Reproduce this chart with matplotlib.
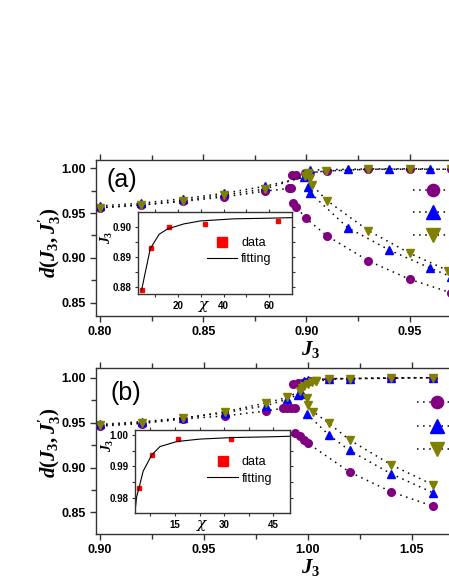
import matplotlib
matplotlib.use("Agg")
import matplotlib.pyplot as plt

plt.rcParams["font.family"] = ["Liberation Sans", "DejaVu Sans"]
plt.rcParams["mathtext.fontset"] = "custom"
plt.rcParams["mathtext.it"] = "Liberation Serif:italic:bold"
plt.rcParams["mathtext.rm"] = "Liberation Serif:bold"
plt.rcParams["mathtext.bf"] = "Liberation Serif:bold"

PURPLE = "#800080"
BLUE = "#0000ff"
OLIVE = "#808000"

# ---- panel (a) data ----
a_purple_pre_x = [0.80, 0.82, 0.84, 0.86, 0.88, 0.8915, 0.8925]
a_purple_pre_y = [0.956, 0.959, 0.963, 0.968, 0.9745, 0.9775, 0.978]
a_purple_up_x = [0.893, 0.895, 0.8995, 0.91, 0.93, 0.95, 0.97]
a_purple_up_y = [0.992, 0.993, 0.9945, 0.997, 0.999, 0.999, 0.999]
a_purple_lo_x = [0.8935, 0.895, 0.8998, 0.91, 0.93, 0.95, 0.97]
a_purple_lo_y = [0.961, 0.957, 0.944, 0.9245, 0.8966, 0.876, 0.861]

a_blue_pre_x = [0.80, 0.82, 0.84, 0.86, 0.88, 0.899]
a_blue_pre_y = [0.958, 0.961, 0.966, 0.972, 0.980, 0.990]
a_blue_up_x = [0.900, 0.9017, 0.92, 0.94, 0.96]
a_blue_up_y = [0.995, 0.998, 0.999, 0.9995, 0.9995]
a_blue_lo_x = [0.9008, 0.9017, 0.92, 0.94, 0.96, 0.97]
a_blue_lo_y = [0.9788, 0.9728, 0.9337, 0.9088, 0.8884, 0.879]

a_olive_pre_x = [0.80, 0.82, 0.84, 0.86, 0.88, 0.8995]
a_olive_pre_y = [0.956, 0.959, 0.964, 0.970, 0.977, 0.9915]
a_olive_up_x = [0.9008, 0.9097, 0.93, 0.95, 0.97]
a_olive_up_y = [0.995, 0.997, 0.999, 0.999, 0.999]
a_olive_lo_x = [0.9008, 0.9017, 0.9027, 0.91, 0.93, 0.95, 0.9686]
a_olive_lo_y = [0.9925, 0.9888, 0.9814, 0.9638, 0.9304, 0.9051, 0.8857]

# inset (a)
a_chi = [4, 8, 16, 32, 64]
a_j3 = [0.8789, 0.8930, 0.9000, 0.9010, 0.9020]
a_fit_chi = [4, 7.8, 11.7, 15.4, 22.6, 29.9, 44.5, 59, 70]
a_fit_j3 = [0.8788, 0.8927, 0.8976, 0.8994, 0.9011, 0.9021, 0.9028, 0.9030, 0.9032]

# ---- panel (b) data ----
b_purple_pre_x = [0.90, 0.92, 0.94, 0.96, 0.98, 0.988, 0.990, 0.992, 0.994]
b_purple_pre_y = [0.946, 0.949, 0.954, 0.9575, 0.963, 0.966, 0.966, 0.966, 0.966]
b_purple_up_x = [0.993, 0.995, 0.997, 0.999, 1.001, 1.01, 1.02, 1.04, 1.06]
b_purple_up_y = [0.993, 0.994, 0.994, 0.995, 0.996, 0.999, 0.999, 0.9995, 1.0]
b_purple_lo_x = [0.994, 0.996, 0.998, 1.0, 1.02, 1.04, 1.06]
b_purple_lo_y = [0.938, 0.935, 0.931, 0.927, 0.895, 0.873, 0.857]

b_blue_pre_x = [0.90, 0.92, 0.94, 0.96, 0.98, 0.99, 0.995, 0.997]
b_blue_pre_y = [0.948, 0.951, 0.955, 0.961, 0.969, 0.976, 0.981, 0.982]
b_blue_up_x = [0.998, 1.0, 1.01, 1.02, 1.04, 1.06]
b_blue_up_y = [0.996, 0.997, 0.999, 0.999, 1.0, 1.0]
b_blue_lo_x = [0.9995, 1.01, 1.02, 1.04, 1.06]
b_blue_lo_y = [0.9597, 0.9363, 0.919, 0.893, 0.872]

b_olive_pre_x = [0.90, 0.92, 0.94, 0.96, 0.98, 0.99, 0.996, 0.997, 0.998, 1.0, 1.002, 1.004]
b_olive_pre_y = [0.947, 0.950, 0.955, 0.962, 0.972, 0.978, 0.985, 0.988, 0.991, 0.993, 0.995, 0.996]
b_olive_up_x = [1.004, 1.01, 1.02, 1.04, 1.06]
b_olive_up_y = [0.996, 0.998, 0.999, 0.9995, 1.0]
b_olive_lo_x = [0.9995, 1.0, 1.0025, 1.01, 1.02, 1.04, 1.06]
b_olive_lo_y = [0.977, 0.9697, 0.9622, 0.9493, 0.9308, 0.903, 0.8808]

# inset (b)
b_chi = [4, 8, 16, 32]
b_j3 = [0.983, 0.9937, 0.9986, 0.9986]
b_fit_chi = [2.8, 3.3, 4, 5.3, 7.9, 10.4, 15.5, 22.6, 32.8, 43, 50]
b_fit_j3 = [0.9755, 0.9803, 0.983, 0.9885, 0.9936, 0.9963, 0.9979, 0.9987, 0.9992, 0.9994, 0.9996]

# legend text lies outside the visible canvas in the reference
legend_labels = ["", "", ""]

W, H = 449, 580
fig = plt.figure(figsize=(W / 100, H / 100), dpi=100)


def box(l, t, r, b):
    return [l / W, 1 - b / H, (r - l) / W, (b - t) / H]


def pt(x, y):
    return (x / W, 1 - y / H)


dot = (0, (1, 3))


def series(ax, xs, ys, marker, color, ms):
    h = None
    for x, y in zip(xs, ys):
        (line,) = ax.plot(x, y, linestyle=dot, color="black", lw=1.1, marker=marker,
                          mfc=color, mec=color, ms=ms)
        if h is None:
            h = line
    return h


def style_main(ax, xmaj, xmin, ymaj, ymin):
    ax.set_xticks(xmaj)
    ax.set_xticks(xmin, minor=True)
    ax.set_yticks(ymaj)
    ax.set_yticks(ymin, minor=True)
    ax.set_xticklabels([f"{v:.2f}" for v in xmaj])
    ax.set_yticklabels([f"{v:.2f}" for v in ymaj])
    ax.tick_params(which="both", direction="out", top=True, right=True, width=1, color="#333333")
    ax.tick_params(which="major", length=4, labelsize=9)
    ax.tick_params(which="minor", length=3.5)
    for lab in ax.get_xticklabels() + ax.get_yticklabels():
        lab.set_fontweight("bold")
    for s in ax.spines.values():
        s.set_color("#333333")
        s.set_linewidth(1)


def style_inset(ax, xmaj, xmin, ymaj, ymin):
    ax.set_xticks(xmaj)
    ax.set_xticks(xmin, minor=True)
    ax.set_yticks(ymaj)
    ax.set_yticks(ymin, minor=True)
    ax.tick_params(which="both", direction="out", top=True, right=True, width=0.8,
                   length=2.5, color="#333333", labelsize=7, pad=2)
    for lab in ax.get_xticklabels() + ax.get_yticklabels():
        lab.set_fontweight("bold")
    for s in ax.spines.values():
        s.set_color("#333333")
        s.set_linewidth(1)


def draw_panel(axbox, xlim, ylim, data, xmaj, xmin, ymaj, ymin, label, lab_xy, leg_xy, lsp):
    ax = fig.add_axes(axbox)
    hp = series(ax, data[0], data[1], "o", PURPLE, 5.5)
    hb = series(ax, data[2], data[3], "^", BLUE, 6)
    ho = series(ax, data[4], data[5], "v", OLIVE, 6)
    ax.set_xlim(*xlim)
    ax.set_ylim(*ylim)
    style_main(ax, xmaj, xmin, ymaj, ymin)
    ax.text(*lab_xy, label, transform=fig.transFigure, fontsize=18, ha="center", va="center")
    ax.legend([hp, hb, ho], legend_labels, loc="upper left", bbox_to_anchor=leg_xy,
              bbox_transform=fig.transFigure, frameon=False, borderpad=0, borderaxespad=0,
              fontsize=12, handlelength=2.4, handletextpad=0.4, labelspacing=lsp,
              markerscale=1.6)
    return ax


def draw_inset(axbox, xlim, ylim, chi, j3, fchi, fj3, xmaj, xmin, ymaj, ymin, leg_xy):
    ins = fig.add_axes(axbox)
    ins.set_facecolor("white")
    (hd,) = ins.plot(chi, j3, "s", color="red", ms=2.5, ls="none")
    (hf,) = ins.plot(fchi, fj3, "-", color="black", lw=0.8)
    ins.set_xlim(*xlim)
    ins.set_ylim(*ylim)
    style_inset(ins, xmaj, xmin, ymaj, ymin)
    ins.legend([hd, hf], ["data", "fitting"], loc="upper left", bbox_to_anchor=leg_xy,
               bbox_transform=fig.transFigure, frameon=False, borderpad=0, borderaxespad=0,
               fontsize=9, handlelength=2.45, handletextpad=0.3, labelspacing=0.35,
               markerscale=2.6)
    return ins


def chi_label(x, y):
    fig.text(*pt(x, y), "χ", family="DejaVu Serif", style="italic", fontsize=11,
             ha="center", va="center")


# panel (a)
draw_panel(box(96, 160, 513, 316), (0.7981, 1.0), (0.835, 1.0093),
           [[a_purple_pre_x, a_purple_up_x, a_purple_lo_x],
            [a_purple_pre_y, a_purple_up_y, a_purple_lo_y],
            [a_blue_pre_x, a_blue_up_x, a_blue_lo_x],
            [a_blue_pre_y, a_blue_up_y, a_blue_lo_y],
            [a_olive_pre_x, a_olive_up_x, a_olive_lo_x],
            [a_olive_pre_y, a_olive_up_y, a_olive_lo_y]],
           [0.80, 0.85, 0.90, 0.95], [0.825, 0.875, 0.925, 0.975],
           [0.85, 0.90, 0.95, 1.00], [0.875, 0.925, 0.975],
           "(a)", pt(122, 180), pt(413, 184), 0.44)
draw_inset(box(137.7, 212.3, 292.3, 294.3), (2.3, 70.2), (0.8774, 0.905),
           a_chi, a_j3, a_fit_chi, a_fit_j3,
           [20, 40, 60], [10, 30, 50], [0.88, 0.89, 0.90], [0.885, 0.895],
           pt(206.7, 237))
fig.text(*pt(50, 243), r"$d(J_3,J_3^{\prime})$", rotation=90, fontsize=15, ha="center", va="center")
fig.text(*pt(311, 349), r"$J_3$", fontsize=15, ha="center", va="center")
fig.text(*pt(107, 237), r"$J_3$", rotation=90, fontsize=10, ha="center", va="center")
chi_label(204, 305)

# panel (b)
draw_panel(box(96, 368, 516, 534), (0.8981, 1.10), (0.826, 1.0108),
           [[b_purple_pre_x, b_purple_up_x, b_purple_lo_x],
            [b_purple_pre_y, b_purple_up_y, b_purple_lo_y],
            [b_blue_pre_x, b_blue_up_x, b_blue_lo_x],
            [b_blue_pre_y, b_blue_up_y, b_blue_lo_y],
            [b_olive_pre_x, b_olive_up_x, b_olive_lo_x],
            [b_olive_pre_y, b_olive_up_y, b_olive_lo_y]],
           [0.90, 0.95, 1.00, 1.05], [0.925, 0.975, 1.025, 1.075],
           [0.85, 0.90, 0.95, 1.00], [0.875, 0.925, 0.975],
           "(b)", pt(126, 393), pt(417, 396), 0.5)
draw_inset(box(135, 430, 290, 513.3), (2.8, 50.1), (0.975, 1.0016),
           b_chi, b_j3, b_fit_chi, b_fit_j3,
           [15, 30, 45], [7.5, 22.5, 37.5], [0.98, 0.99, 1.00], [0.985, 0.995],
           pt(207.3, 456.3))
fig.text(*pt(50, 443), r"$d(J_3,J_3^{\prime})$", rotation=90, fontsize=15, ha="center", va="center")
fig.text(*pt(311, 567), r"$J_3$", fontsize=15, ha="center", va="center")
fig.text(*pt(108, 445), r"$J_3$", rotation=90, fontsize=10, ha="center", va="center")
chi_label(202, 524)

fig.savefig("out.png", dpi=100)
plt.close(fig)
